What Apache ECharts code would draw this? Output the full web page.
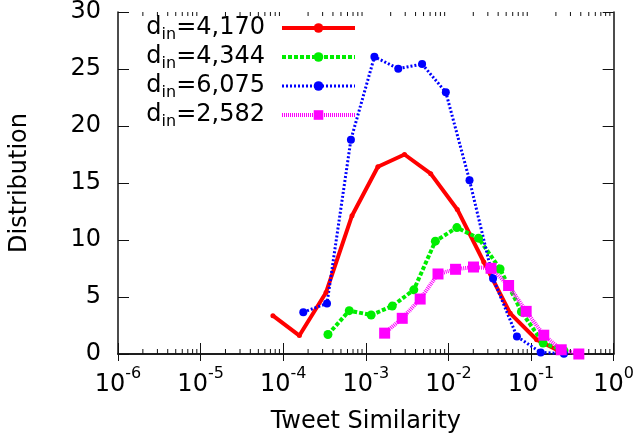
<!DOCTYPE html>
<html>
<head>
<meta charset="utf-8">
<script src="https://cdn.jsdelivr.net/npm/echarts@6/dist/echarts.min.js"></script>
<style>
  html, body { margin: 0; padding: 0; background: #fff; }
  #main { width: 637px; height: 445px; }
</style>
</head>
<body>
<div id="main"></div>
<script>
// series names (legend)
const seriesNames = ['d_in=4,170', 'd_in=4,344', 'd_in=6,075', 'd_in=2,582'];

// tweet similarity (x) / distribution (y)
const redX = [7.5e-5, 1.57e-4, 3.3e-4, 6.8e-4, 1.4e-3, 2.94e-3, 6.1e-3, 0.0128, 0.0268, 0.056, 0.117, 0.245];
const redY = [3.36, 1.62, 5.4, 12.13, 16.43, 17.5, 15.82, 12.68, 8.07, 3.57, 1.25, 0.1];

const greenX = [3.48e-4, 6.3e-4, 1.16e-3, 2.09e-3, 3.81e-3, 6.95e-3, 0.01265, 0.0231, 0.0422, 0.0765, 0.14, 0.25];
const greenY = [1.71, 3.8, 3.42, 4.2, 5.63, 9.9, 11.09, 10.16, 7.46, 3.71, 0.96, 0.3];

const blueX = [1.75e-4, 3.39e-4, 6.6e-4, 1.27e-3, 2.47e-3, 4.8e-3, 9.3e-3, 0.018, 0.0347, 0.0675, 0.131, 0.25];
const blueY = [3.66, 4.44, 18.8, 26.07, 25.03, 25.43, 22.96, 15.24, 6.62, 1.53, 0.14, 0.03];

const pinkX = [1.69e-3, 2.76e-3, 4.55e-3, 7.48e-3, 0.0122, 0.0201, 0.0328, 0.0535, 0.0873, 0.1426, 0.232, 0.379];
const pinkY = [1.83, 3.13, 4.82, 7.02, 7.43, 7.63, 7.52, 6.01, 3.74, 1.65, 0.37, 0.0];

// minor ticks of the log axis (2..9 x 10^n)
const minorTicks = [];
for (let e = -6; e < 0; e++) {
  for (let k = 2; k <= 9; k++) minorTicks.push([k * Math.pow(10, e), 0]);
}

const FONT = '"DejaVu Sans", sans-serif';
const lineWidths = [4, 4, 3, 4];

function pairs(xs, ys) {
  return xs.map((x, i) => [x, ys[i]]);
}

let myChart = echarts.init(document.getElementById('main'));

let frameLine = { show: true, lineStyle: { color: '#111', width: 1.5 } };

let option = {
  animation: false,
  backgroundColor: '#fff',
  grid: { left: 117, right: 21, top: 9, bottom: 91, containLabel: false },
  legend: {
    data: seriesNames.map((n, i) => ({ name: n, lineStyle: { width: lineWidths[i] } })),
    orient: 'vertical',
    right: 275,
    top: 8,
    align: 'right',
    itemWidth: 73,
    itemHeight: 12,
    itemGap: -1,
    textStyle: {
      fontFamily: FONT,
      color: '#000',
      fontSize: 24,
      rich: {
        b: { fontFamily: FONT, fontSize: 24, lineHeight: 20, color: '#000' },
        sub: { fontFamily: FONT, fontSize: 16, lineHeight: 6, padding: [14, 0, 0, 0], color: '#000' },
        e: { fontFamily: FONT, fontSize: 24, lineHeight: 20, color: '#000', padding: [0, 12, 0, 0] }
      }
    },
    formatter: function (name) {
      return '{b|d}{sub|in}{e|=' + name.split('=')[1] + '}';
    }
  },
  xAxis: [{
    type: 'log',
    logBase: 10,
    min: 1e-6,
    max: 1,
    name: 'Tweet Similarity',
    nameLocation: 'middle',
    nameGap: 56,
    nameTextStyle: { fontFamily: FONT, fontSize: 24, color: '#000' },
    axisLine: frameLine,
    axisTick: { show: true, inside: true, length: 11, lineStyle: { color: '#111', width: 1 } },
    splitLine: { show: false },
    axisLabel: {
      margin: 19,
      formatter: function (v) {
        return '{b|10}{s|' + Math.round(Math.log10(v)) + '}';
      },
      rich: {
        b: { fontFamily: FONT, fontSize: 24, lineHeight: 24, color: '#000' },
        s: { fontFamily: FONT, fontSize: 16, lineHeight: 2, padding: [0, 0, 22, 0], color: '#000' }
      }
    }
  }, {
    type: 'log',
    logBase: 10,
    min: 1e-6,
    max: 1,
    position: 'top',
    axisLine: frameLine,
    axisTick: { show: true, inside: true, length: 7, lineStyle: { color: '#111', width: 1 } },
    axisLabel: { show: false },
    splitLine: { show: false }
  }],
  yAxis: [{
    type: 'value',
    min: 0,
    max: 30,
    interval: 5,
    name: 'Distribution',
    nameLocation: 'middle',
    nameGap: 86,
    nameTextStyle: { fontFamily: FONT, fontSize: 24, color: '#000' },
    axisLine: frameLine,
    axisTick: { show: true, inside: true, length: 11, lineStyle: { color: '#111', width: 1 } },
    splitLine: { show: false },
    axisLabel: { margin: 17, fontFamily: FONT, fontSize: 24, color: '#000' }
  }, {
    type: 'value',
    min: 0,
    max: 30,
    interval: 5,
    position: 'right',
    axisLine: frameLine,
    axisTick: { show: true, inside: true, length: 11, lineStyle: { color: '#111', width: 1 } },
    axisLabel: { show: false },
    splitLine: { show: false }
  }],
  series: [
    {
      name: 'minor',
      type: 'custom',
      silent: true,
      clip: false,
      data: minorTicks,
      renderItem: function (params, api) {
        let x = api.coord([api.value(0), 0])[0];
        let cs = params.coordSys;
        let st = { stroke: '#111', lineWidth: 1 };
        return {
          type: 'group',
          children: [
            { type: 'line', shape: { x1: x, y1: cs.y + cs.height, x2: x, y2: cs.y + cs.height - 5 }, style: st },
            { type: 'line', shape: { x1: x, y1: cs.y, x2: x, y2: cs.y + 4 }, style: st }
          ]
        };
      }
    },
    {
      name: seriesNames[0],
      type: 'line',
      data: pairs(redX, redY),
      symbol: 'circle',
      symbolSize: 5,
      lineStyle: { color: '#ff0000', width: lineWidths[0] },
      itemStyle: { color: '#ff0000' }
    },
    {
      name: seriesNames[1],
      type: 'line',
      data: pairs(greenX, greenY),
      symbol: 'circle',
      symbolSize: 9,
      lineStyle: { color: '#00ee00', width: lineWidths[1], type: [4, 2] },
      itemStyle: { color: '#00ee00' }
    },
    {
      name: seriesNames[2],
      type: 'line',
      data: pairs(blueX, blueY),
      symbol: 'circle',
      symbolSize: 8,
      lineStyle: { color: '#0000ff', width: lineWidths[2], type: [2, 2] },
      itemStyle: { color: '#0000ff' }
    },
    {
      name: seriesNames[3],
      type: 'line',
      data: pairs(pinkX, pinkY),
      symbol: 'rect',
      symbolSize: 11,
      lineStyle: { color: '#ff00ff', width: lineWidths[3], type: [1, 1] },
      itemStyle: { color: '#ff00ff' }
    }
  ]
};

myChart.setOption(option);
</script>
</body>
</html>
